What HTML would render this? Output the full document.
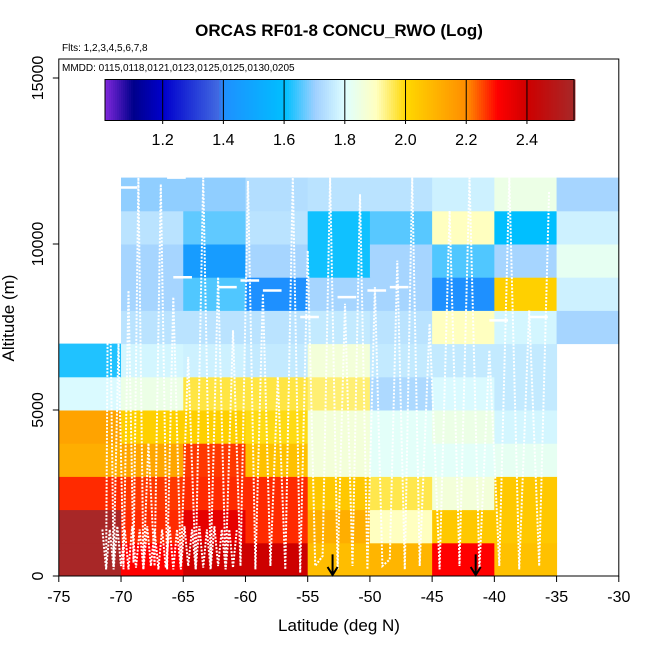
<!DOCTYPE html>
<html><head><meta charset="utf-8">
<style>
html,body{margin:0;padding:0;background:#fff;}
svg{display:block;font-family:"Liberation Sans",Arial,sans-serif;}
</style></head>
<body>
<svg id="chart" width="650" height="650" viewBox="0 0 650 650" xmlns="http://www.w3.org/2000/svg">
<text x="339" y="36" text-anchor="middle" font-size="17" font-weight="bold">ORCAS RF01-8 CONCU_RWO (Log)</text>
<text x="62" y="51" font-size="10">Flts: 1,2,3,4,5,6,7,8</text>
<g id="cells"></g>
<g id="tracks"></g>
<g id="arrows"></g>
<rect x="58.8" y="59" width="560" height="517" fill="none" stroke="#000" stroke-width="1"/>
<text x="62" y="71" font-size="10">MMDD: 0115,0118,0121,0123,0125,0125,0130,0205</text>
<g id="cbar"></g>
<g id="axes"></g>
<text x="339" y="631" text-anchor="middle" font-size="17">Latitude (deg N)</text>
<text x="0" y="0" transform="translate(14,318) rotate(-90)" text-anchor="middle" font-size="17">Altitude (m)</text>
</svg>
<script>
// ---- data ----
const latEdges = [-75,-70,-65,-60,-55,-50,-45,-40,-35,-30];
const altEdges = [0,1000,2000,3000,4000,5000,6000,7000,8000,9000,10000,11000,12000];
// rows from 0-1000 m upward; columns -75..-30; null = no data
const row0  = [2.55,2.30,2.40,2.40,2.07,2.09,2.30,2.06,null];
const row1  = [2.55,2.27,2.35,2.27,2.11,1.90,2.04,2.04,null];
const row2  = [2.27,2.26,2.27,2.27,2.04,1.96,1.86,2.04,null];
const row3  = [2.11,2.13,2.26,2.06,1.86,1.81,1.81,1.82,null];
const row4  = [2.14,2.02,2.02,1.99,1.86,1.81,1.84,1.78,null];
const row5  = [1.79,1.84,1.965,1.965,1.94,1.72,1.79,1.755,null];
const row6  = [1.62,1.78,1.77,1.755,1.86,1.755,1.755,1.755,null];
const row7  = [null,1.74,1.74,1.74,1.755,1.74,1.90,1.78,1.71];
const row8  = [null,1.71,1.65,1.40,1.71,1.71,1.40,2.02,1.77];
const row9  = [null,1.71,1.45,1.71,1.61,1.71,1.65,1.71,1.82];
const row10 = [null,1.74,1.66,1.74,1.61,1.655,1.90,1.60,1.77];
const row11 = [null,1.69,1.69,1.73,1.74,1.74,1.77,1.84,1.71];
const rows = [row0,row1,row2,row3,row4,row5,row6,row7,row8,row9,row10,row11];
const cbTicks = [1.2,1.4,1.6,1.8,2.0,2.2,2.4];
const xTicks = [-75,-70,-65,-60,-55,-50,-45,-40,-35,-30];
const yTicks = [0,5000,10000,15000];
const arrowLats = [-53,-41.5];
const trackLat = [-71.2,-71,-70.6,-70.2,-69.8,-69.4,-69,-68.6,-68.2,-67.8,-67.3,-66.8,-66.3,-65.8,-65.2,-64.6,-64,-63.4,-62.8,-62.2,-61.6,-61,-60.4,-59.8,-59.2,-58.6,-58,-57.4,-56.8,-56.2,-55.6,-55,-54.4,-53.8,-53.2,-52.6,-52,-51.4,-50.8,-50.2,-49.6,-49,-48.4,-47.8,-47.2,-46.6,-46,-45.2,-44.4,-43.6,-42.8,-42,-41.2,-40.4,-39.6,-38.8,-38,-37.2,-36.4,-35.6];
const trackAlt = [200,11900,300,7000,200,8600,400,12000,200,4000,300,11800,200,8400,300,6600,200,12000,300,9000,200,7400,300,11900,200,8500,300,6000,200,12000,100,9800,300,600,12000,200,8200,300,11500,200,8700,300,500,9500,200,12000,300,7600,200,11000,300,12000,200,6800,300,12000,200,8000,300,11600];
const lowLat = [-71.5,-71.2,-70.9,-70.6,-70.3,-70,-69.7,-69.4,-69.1,-68.8,-68.5,-68.2,-67.9,-67.6,-67.3,-67,-66.7,-66.4,-66.1,-65.8,-65.5,-65.2,-64.9,-64.6,-64.3,-64,-63.7,-63.4,-63.1,-62.8,-62.5,-62.2,-61.9,-61.6,-61.3,-61,-60.7];
const lowAlt = [1400,200,1400,200,1500,300,1400,200,1500,250,1400,200,1500,300,1400,200,1400,250,1500,200,1400,200,1500,300,1400,200,1500,250,1400,200,1500,300,1400,200,1400,250,1400];
const levelLat = [-70.2,-66.3,-65.8,-62.2,-60.4,-58.6,-55.6,-52.6,-50.2,-48.4,-40.4,-37.2];
const levelAlt = [11700,12000,9000,8700,8900,8600,7800,8400,8600,8700,7700,7800];

// ---- scales ----
const X0=58.8, X1=618.8, Y0=576, PXM=166/5000;
const xs = v => X0 + (v+75)*(X1-X0)/45;
const ys = v => Y0 - v*PXM;
const stops = [[1.0,'#8a2be2'],[1.1,'#00008b'],[1.2,'#0000cd'],[1.38,'#4169e1'],[1.4,'#1e90ff'],[1.6,'#00bfff'],[1.7,'#a0d0ff'],[1.8,'#e0ffff'],[1.9,'#ffffc0'],[2.0,'#ffd700'],[2.2,'#ff8c00'],[2.3,'#ff0000'],[2.4,'#cd0000'],[2.56,'#a52a2a']];
function hex(h){return [1,3,5].map(i=>parseInt(h.substr(i,2),16));}
function cmap(v){
  if(v<=stops[0][0]) return stops[0][1];
  for(let i=1;i<stops.length;i++){
    if(v<=stops[i][0]){
      const t=(v-stops[i-1][0])/(stops[i][0]-stops[i-1][0]);
      const a=hex(stops[i-1][1]), b=hex(stops[i][1]);
      return 'rgb('+a.map((c,k)=>Math.round(c+(b[k]-c)*t)).join(',')+')';
    }
  }
  return stops[stops.length-1][1];
}
const NS='http://www.w3.org/2000/svg';
function mk(tag,attrs,parent){const e=document.createElementNS(NS,tag);for(const k in attrs)e.setAttribute(k,attrs[k]);parent.appendChild(e);return e;}

// ---- cells ----
const gc=document.getElementById('cells');
rows.forEach((row,r)=>{
  row.forEach((v,c)=>{
    if(v===null) return;
    const x=xs(latEdges[c]), w=xs(latEdges[c+1])-x, y=ys(altEdges[r+1]), h=ys(altEdges[r])-y;
    const el=mk('rect',{x:x,y:y,width:w+0.5,height:h+0.5,fill:cmap(v)},gc);
    
    
  });
});

// ---- tracks ----
const gt=document.getElementById('tracks');
function poly(lats,alts,name){
  const p=lats.map((l,i)=>xs(l).toFixed(1)+','+ys(alts[i]).toFixed(1)).join(' ');
  const el=mk('polyline',{points:p,fill:'none',stroke:'#fff','stroke-width':2,'stroke-dasharray':'2,1.5'},gt);
  
  
}
poly(trackLat,trackAlt,'flight-track');
poly(lowLat,lowAlt,'low-level-track');
levelLat.forEach((l,i)=>{
  const el=mk('line',{x1:xs(l),y1:ys(levelAlt[i]),x2:xs(l+1.5),y2:ys(levelAlt[i]),stroke:'#fff','stroke-width':2.5},gt);
  
  
});

// ---- arrows ----
const ga=document.getElementById('arrows');
arrowLats.forEach(l=>{
  const x=xs(l);
  const a=mk('path',{d:`M${x},${ys(650)} L${x},${Y0-1} M${x-5},${Y0-9} L${x},${Y0-1} L${x+5},${Y0-9}`,stroke:'#000','stroke-width':2,fill:'none'},ga);
  
  
});

// ---- colorbar ----
const gb=document.getElementById('cbar');
const CB0=105, CB1=574, cbMin=1.01, cbMax=2.555;
const cbx=v=>CB0+(v-cbMin)*(CB1-CB0)/(cbMax-cbMin);
for(let x=CB0;x<CB1;x+=2){
  const v=cbMin+(x-CB0)*(cbMax-cbMin)/(CB1-CB0);
  mk('rect',{x:x,y:79.5,width:2.4,height:41,fill:cmap(v)},gb);
}
mk('rect',{x:CB0,y:79.5,width:CB1-CB0,height:41,fill:'none',stroke:'#000','stroke-width':1},gb);
cbTicks.forEach(t=>{
  const x=cbx(t);
  mk('line',{x1:x,y1:79.5,x2:x,y2:124,stroke:'#000','stroke-width':1},gb);
  const tx=mk('text',{x:x,y:145,'text-anchor':'middle','font-size':16},gb);
  tx.textContent=t.toFixed(1);
  
  
});

// ---- axes ----
const gx=document.getElementById('axes');
xTicks.forEach(t=>{
  const x=xs(t);
  mk('line',{x1:x,y1:Y0,x2:x,y2:Y0+6,stroke:'#000'},gx);
  const tx=mk('text',{x:x,y:602,'text-anchor':'middle','font-size':16},gx);
  tx.textContent=String(t);
  
  
});
yTicks.forEach(t=>{
  const y=ys(t);
  mk('line',{x1:X0-6,y1:y,x2:X0,y2:y,stroke:'#000'},gx);
  const tx=mk('text',{x:0,y:0,transform:`translate(43,${y}) rotate(-90)`,'text-anchor':'middle','font-size':16},gx);
  tx.textContent=String(t);
  
  
});
</script>
</body></html>
